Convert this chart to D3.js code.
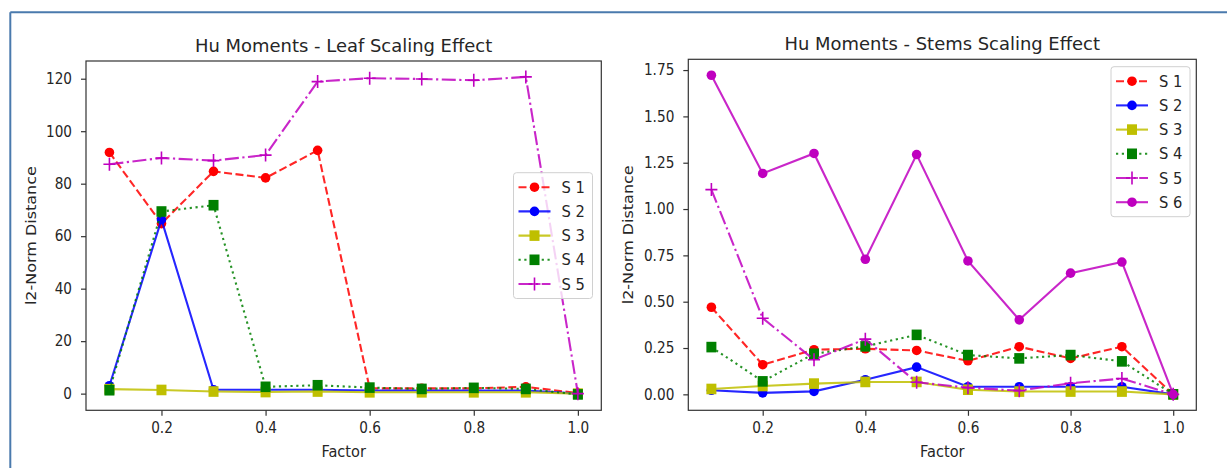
<!DOCTYPE html>
<meta charset="utf-8">
<script src="https://cdn.jsdelivr.net/npm/d3@7"></script>
<style>
body { margin: 0; background: #fff; }
svg text { font-family: "DejaVu Sans", sans-serif; fill: #262626; }
.axis path, .axis line { stroke: #333; stroke-width: 1.2; }
.axis text { font-size: 15px; transform-box: fill-box; transform: scaleX(0.91); }
.axis.x text { transform-origin: center; }
.axis.y text { transform-origin: right center; }
.title { font-size: 18.5px; text-anchor: middle; transform-box: fill-box; transform-origin: center; transform: scaleX(0.97); }
.label { font-size: 16px; text-anchor: middle; }
.xlabel { transform-box: fill-box; transform-origin: center; transform: scaleX(0.91); }
.legend text { font-size: 15.5px; transform-box: fill-box; transform-origin: left center; transform: scaleX(0.95); }
</style>
<body>
<div id="container"></div>
<script>
//---------------------------- DATA ----------------------------//
const factors = [0.1, 0.2, 0.3, 0.4, 0.5, 0.6, 0.7, 0.8, 0.9, 1.0];

// leaf panel
const leafS1 = [91.9, 64.8, 84.7, 82.2, 92.7, 2.0, 2.0, 2.0, 2.6, 0.2];
const leafS2 = [3.0, 66.3, 1.5, 1.5, 1.5, 1.2, 1.2, 1.2, 1.2, 0.0];
const leafS3 = [1.7, 1.4, 0.8, 0.6, 0.8, 0.5, 0.5, 0.5, 0.5, 0.0];
const leafS4 = [1.3, 69.4, 71.8, 2.6, 3.2, 2.3, 1.8, 2.2, 1.8, -0.3];
const leafS5 = [87.4, 89.8, 88.8, 90.9, 118.9, 120.2, 119.9, 119.4, 120.7, 0.0];

// stems panel
const stemsS1 = [0.470, 0.160, 0.241, 0.246, 0.237, 0.181, 0.257, 0.194, 0.257, 0.0];
const stemsS2 = [0.022, 0.008, 0.016, 0.079, 0.147, 0.041, 0.041, 0.041, 0.041, 0.0];
const stemsS3 = [0.029, 0.045, 0.058, 0.067, 0.067, 0.025, 0.015, 0.015, 0.015, 0.0];
const stemsS4 = [0.255, 0.070, 0.219, 0.259, 0.321, 0.212, 0.194, 0.212, 0.178, 0.0];
const stemsS5 = [1.105, 0.411, 0.187, 0.298, 0.065, 0.036, 0.020, 0.060, 0.085, 0.0];
const stemsS6 = [1.722, 1.192, 1.300, 0.729, 1.294, 0.720, 0.402, 0.654, 0.714, 0.0];

const xTicks = [0.2, 0.4, 0.6, 0.8, 1.0];
const leafYTicks = [0, 20, 40, 60, 80, 100, 120];
const stemsYTicks = [0, 0.25, 0.5, 0.75, 1.0, 1.25, 1.5, 1.75];

//--------------------------- STYLES ---------------------------//
const styles = {
  "S 1": {color: "#ff0000", dash: "8,3.5", marker: "o"},
  "S 2": {color: "#0000ff", dash: null, marker: "o"},
  "S 3": {color: "#bfbf00", dash: null, marker: "s"},
  "S 4": {color: "#008000", dash: "2.2,3.6", marker: "s"},
  "S 5": {color: "#bf00bf", dash: "14,3.5,2.2,3.5", marker: "+"},
  "S 6": {color: "#bf00bf", dash: null, marker: "o"}
};

const svg = d3.select("#container").append("svg")
    .attr("width", 1227)
    .attr("height", 468);

// notebook output frame
svg.append("line").attr("x1", 10.3).attr("x2", 1227).attr("y1", 12.3).attr("y2", 12.3)
    .attr("stroke", "#4a7aad").attr("stroke-width", 2);
svg.append("line").attr("x1", 10.3).attr("x2", 10.3).attr("y1", 12.3).attr("y2", 468)
    .attr("stroke", "#4a7aad").attr("stroke-width", 2);

function drawMarker(g, type, color, x, y) {
  if (type === "o") {
    g.append("circle").attr("cx", x).attr("cy", y).attr("r", 4.8).attr("fill", color);
  } else if (type === "s") {
    g.append("rect").attr("x", x - 5).attr("y", y - 5.3).attr("width", 10).attr("height", 10.6)
      .attr("fill", color);
  } else {
    g.append("path").attr("d", `M${x - 6},${y}H${x + 6}M${x},${y - 6.5}V${y + 6.5}`)
      .attr("stroke", color).attr("stroke-width", 1.6).attr("fill", "none");
  }
}

function panel(cfg) {
  const vals = cfg.series.flatMap(s => s.values);
  const lo = d3.min(vals), hi = d3.max(vals), pad = (hi - lo) * 0.05;
  const x = d3.scaleLinear().domain([0.055, 1.045]).range([cfg.left, cfg.right]);
  const y = d3.scaleLinear().domain([lo - pad, hi + pad]).range([cfg.bottom, cfg.top]);

  const g = svg.append("g");

  // lines + markers
  const line = d3.line().x(d => x(d[0])).y(d => y(d[1]));
  cfg.series.forEach(s => {
    const st = styles[s.name];
    const pts = factors.map((f, i) => [f, s.values[i]]);
    g.append("path")
      .attr("d", line(pts))
      .attr("fill", "none")
      .attr("stroke", st.color)
      .attr("stroke-width", 2.1)
      .attr("stroke-opacity", 0.85)
      .attr("stroke-dasharray", st.dash);
    pts.forEach(p => drawMarker(g, st.marker, st.color, x(p[0]), y(p[1])));
  });

  // frame
  g.append("rect")
    .attr("x", cfg.left).attr("y", cfg.top)
    .attr("width", cfg.right - cfg.left).attr("height", cfg.bottom - cfg.top)
    .attr("fill", "none").attr("stroke", "#333").attr("stroke-width", 1.2);

  g.append("g").attr("class", "axis x")
    .attr("transform", `translate(0,${cfg.bottom})`)
    .call(d3.axisBottom(x).tickValues(xTicks).tickFormat(d3.format(".1f"))
      .tickSize(5.5).tickPadding(7).tickSizeOuter(0))
    .select(".domain").remove();

  g.append("g").attr("class", "axis y")
    .attr("transform", `translate(${cfg.left},0)`)
    .call(d3.axisLeft(y).tickValues(cfg.yTicks).tickFormat(cfg.yFormat)
      .tickSize(5).tickPadding(9).tickSizeOuter(0))
    .select(".domain").remove();

  const cx = (cfg.left + cfg.right) / 2;
  svg.append("text").attr("class", "title").attr("x", cx).attr("y", cfg.top - 9)
    .text(cfg.title);
  svg.append("text").attr("class", "label xlabel").attr("x", cx).attr("y", 457)
    .text("Factor");
  svg.append("text").attr("class", "label")
    .attr("transform", `translate(${cfg.ylabelX},${(cfg.top + cfg.bottom) / 2}) rotate(-90) scale(1,0.91)`)
    .text("l2-Norm Distance");

  // legend
  const lg = svg.append("g").attr("class", "legend");
  const L = cfg.legend;
  const h = 14.5 + (cfg.series.length - 1) * 24.2 + 14.5;
  lg.append("rect").attr("x", L.x).attr("y", L.y).attr("width", 79).attr("height", h)
    .attr("rx", 3).attr("fill", "#fff").attr("fill-opacity", 0.8)
    .attr("stroke", "#d0d0d0").attr("stroke-width", 1);
  cfg.series.forEach((s, i) => {
    const st = styles[s.name];
    const yy = L.y + 14.5 + i * 24.2;
    lg.append("line").attr("x1", L.x + 5).attr("x2", L.x + 37).attr("y1", yy).attr("y2", yy)
      .attr("stroke", st.color).attr("stroke-width", 2.1).attr("stroke-opacity", 0.85)
      .attr("stroke-dasharray", st.dash);
    drawMarker(lg, st.marker, st.color, L.x + 21, yy);
    lg.append("text").attr("x", L.x + 48).attr("y", yy + 5.6).text(s.name);
  });
}

panel({
  title: "Hu Moments - Leaf Scaling Effect",
  left: 86, right: 601.3, top: 61, bottom: 410.3, ylabelX: 36,
  yTicks: leafYTicks, yFormat: d3.format("d"),
  legend: {x: 513.5, y: 172.7},
  series: [
    {name: "S 1", values: leafS1},
    {name: "S 2", values: leafS2},
    {name: "S 3", values: leafS3},
    {name: "S 4", values: leafS4},
    {name: "S 5", values: leafS5}
  ]
});

panel({
  title: "Hu Moments - Stems Scaling Effect",
  left: 688.3, right: 1196.3, top: 59.3, bottom: 410.3, ylabelX: 633,
  yTicks: stemsYTicks, yFormat: d3.format(".2f"),
  legend: {x: 1111, y: 66.7},
  series: [
    {name: "S 1", values: stemsS1},
    {name: "S 2", values: stemsS2},
    {name: "S 3", values: stemsS3},
    {name: "S 4", values: stemsS4},
    {name: "S 5", values: stemsS5},
    {name: "S 6", values: stemsS6}
  ]
});
</script>
</body>
